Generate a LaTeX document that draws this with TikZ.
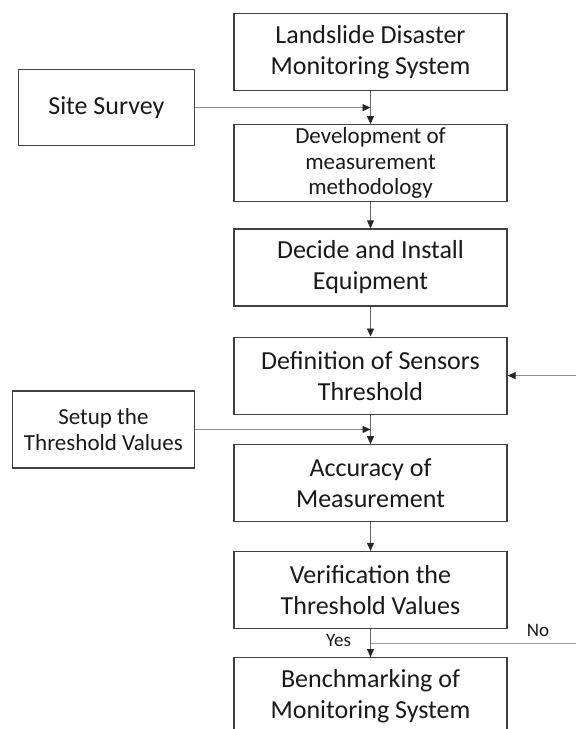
\documentclass[tikz,border=0pt]{standalone}
\usepackage{fontspec}
\setmainfont{Carlito}
\usetikzlibrary{arrows.meta,positioning,calc}

\begin{document}
\begin{tikzpicture}[
  x=1pt, y=1pt,
  >={Triangle[length=8pt,width=7pt,color=black!85]},
  node distance=30pt,
  every node/.style={font=\fontsize{26}{31}\selectfont, text=black!90},
  box/.style={draw=black!75, line width=1.2pt, align=center, minimum width=273pt, minimum height=77pt, inner sep=2pt},
  side/.style={draw=black!75, line width=1.2pt, align=center, minimum height=76pt},
  flow/.style={->, draw=black!60, line width=.9pt},
  feed/.style={draw=black!40, line width=.9pt},
  lbl/.style={font=\fontsize{19}{22}\selectfont}
]
\useasboundingbox (0,0) rectangle (576,-729);
\coordinate (edge) at (576,0);

% main column
\node[box] (lds) at (370.5,-52) {Landslide Disaster\\Monitoring System};
\node[box, below=33pt of lds, inner ysep=0pt, font=\fontsize{23}{25.5}\selectfont] (dev) {Development of\\measurement\\methodology};
\node[box, below=26pt of dev] (dec) {Decide and Install\\Equipment};
\node[box, below=30pt of dec] (def) {Definition of Sensors\\Threshold};
\node[box, below=29.5pt of def] (acc) {Accuracy of\\Measurement};
\node[box, below=28.5pt of acc] (ver) {Verification the\\Threshold Values};
\node[box, below=28pt of ver] (bench) {Benchmarking of\\Monitoring System};

% inputs from the left
\coordinate (in1) at ($(lds.south)!.5!(dev.north)$);
\coordinate (in2) at ($(def.south)!.5!(acc.north)$);
\node[side, minimum width=176pt, left=175.5pt of in1] (site) {Site Survey};
\node[side, minimum width=182pt, minimum height=77pt, font=\fontsize{23}{26}\selectfont, left=175.5pt of in2] (setup) {Setup the\\Threshold Values};

\draw[flow] (lds) -- (dev);
\draw[flow] (dev) -- (dec);
\draw[flow] (dec) -- (def);
\draw[flow] (def) -- (acc);
\draw[flow] (acc) -- (ver);
\draw[flow] (ver) -- (bench);

\draw[flow, draw=black!45] (site) -- (in1);
\draw[flow, draw=black!45] (setup) -- (in2);

% yes / no branch
\coordinate (in3) at ($(ver.south)!.5!(bench.north)$);
\draw[feed] (in3) -- (in3 -| edge);
\draw[flow, draw=black!45] (def.east -| edge) -- (def.east);
\node[lbl, left=16pt of in3, yshift=3pt] (yes) {Yes};
\node[lbl] (no) at ($(in3 -| edge)+(-38,13)$) {No};
\end{tikzpicture}
\end{document}
